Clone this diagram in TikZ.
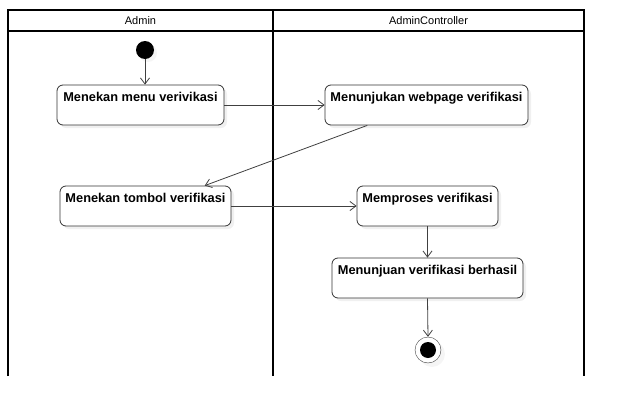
\documentclass[tikz,border=0pt]{standalone}
\usepackage{fontspec}
\setmainfont{Liberation Sans}
\usetikzlibrary{positioning,arrows.meta,shadows}
\definecolor{linegray}{HTML}{404040}
\definecolor{boxgray}{HTML}{333333}

\begin{document}
\begin{tikzpicture}[
    x=1pt, y=-1pt,
    >={Straight Barb[length=6pt,width=9pt]},
    lane/.style={line width=1.6pt, black},
    lanelabel/.style={font=\fontsize{11}{13}\selectfont, inner sep=0pt},
    action/.style={
      draw=boxgray,
      line width=0.8pt,
      rounded corners=6pt,
      fill=white,
      font=\bfseries\fontsize{12.8}{14}\selectfont,
      align=center,
      inner xsep=2pt,
      inner ysep=5pt,
      text height=11pt,
      text depth=19pt,
      drop shadow={shadow xshift=3pt, shadow yshift=-3pt, opacity=0.12}
    },
    startstate/.style={circle, fill=black, minimum size=18pt, inner sep=0pt,
      drop shadow={shadow xshift=3pt, shadow yshift=-3pt, opacity=0.08}},
    endstate/.style={circle, draw=linegray, fill=white, minimum size=26pt, inner sep=0pt,
      path picture={\fill[black] (path picture bounding box.center) circle (8pt);},
      drop shadow={shadow xshift=4pt, shadow yshift=-4pt, opacity=0.08}},
    flow/.style={->, draw=linegray, line width=0.8pt}
  ]

  \useasboundingbox (0,0) rectangle (625,418);

  % swimlanes
  \draw[lane] (8,376) -- (8,10) -- (584,10) -- (584,376);
  \draw[lane] (273,10) -- (273,376);
  \draw[lane] (8,31) -- (584,31);
  \node[lanelabel] (laneadmin) at (140.5,20.5) {Admin};
  \node[lanelabel] (lanectrl)  at (428.5,20.5) {AdminController};

  % states
  \node[startstate] (start) at (145,50) {};
  \node[endstate]   (end)   at (428,350) {};

  % actions
  \node[action, minimum width=167pt] (menu)    at (140.5,105) {Menekan menu verivikasi};
  \node[action, minimum width=203pt] (webpage) at (426.5,105) {Menunjukan webpage verifikasi};
  \node[action, minimum width=171pt] (tombol)  at (145.5,206) {Menekan tombol verifikasi};
  \node[action, minimum width=141pt] (proses)  at (427.5,206) {Memproses verifikasi};
  \node[action, minimum width=191pt] (hasil)   at (427.5,278) {Menunjuan verifikasi berhasil};

  % flows
  \draw[flow] (start) -- (start |- menu.north);
  \draw[flow] (menu.east) -- (webpage.west);
  \draw[flow] (webpage.199) -- (tombol.19);
  \draw[flow] (tombol.east) -- (proses.west);
  \draw[flow] (proses.south) -- (hasil.north);
  \draw[flow] (hasil.south) -- (end.north);

\end{tikzpicture}
\end{document}
